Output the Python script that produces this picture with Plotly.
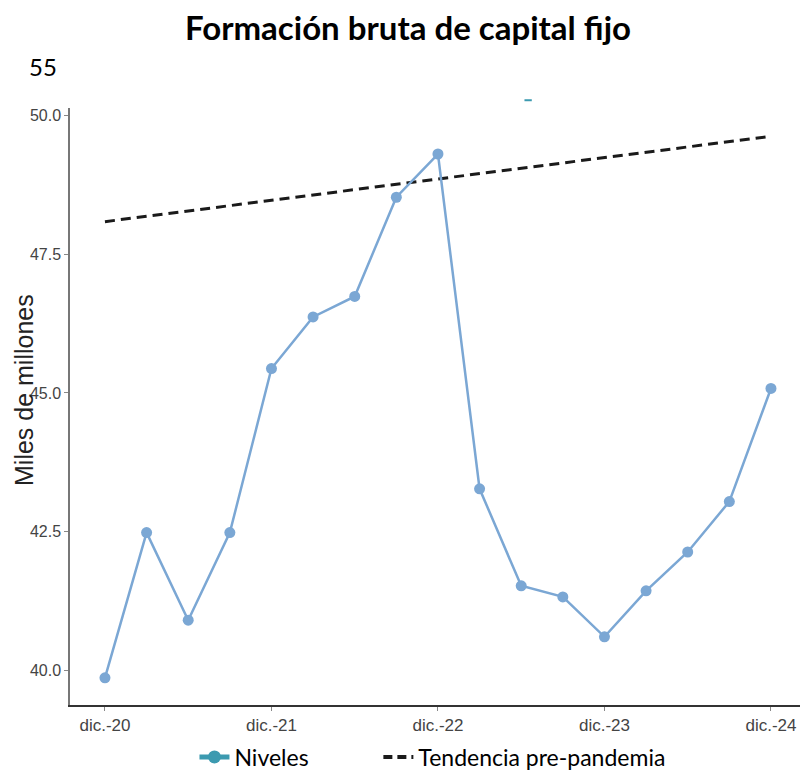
import plotly.graph_objects as go

quarters = ["dic.-20", "mar.-21", "jun.-21", "sep.-21", "dic.-21", "mar.-22", "jun.-22", "sep.-22",
            "dic.-22", "mar.-23", "jun.-23", "sep.-23", "dic.-23", "mar.-24", "jun.-24", "sep.-24", "dic.-24"]
niveles = [39.86, 42.48, 40.9, 42.48, 45.44, 46.37, 46.74, 48.53, 49.31, 43.27, 41.52, 41.32,
           40.6, 41.43, 42.13, 43.04, 45.08]
tendencia_x = [0, 16]
tendencia = [48.09, 49.63]
tick_pos = [0, 4, 8, 12, 16]
tick_labels = ["dic.-20", "dic.-21", "dic.-22", "dic.-23", "dic.-24"]
y_ticks = [40.0, 42.5, 45.0, 47.5, 50.0]

x_idx = list(range(len(quarters)))

fig = go.Figure()
fig.add_trace(go.Scatter(x=tendencia_x, y=tendencia, mode="lines",
                         line=dict(color="#1a1a1a", width=3, dash="10px,6px"),
                         showlegend=False, hoverinfo="skip"))
fig.add_trace(go.Scatter(x=x_idx, y=niveles, mode="lines+markers", text=quarters,
                         line=dict(color="#7ba7d4", width=2.5),
                         marker=dict(color="#7ba7d4", size=11),
                         showlegend=False))
# legend entries
fig.add_trace(go.Scatter(x=[None], y=[None], mode="lines+markers", name="Niveles           ",
                         line=dict(color="#3c9ab0", width=5), marker=dict(color="#3c9ab0", size=13)))
fig.add_trace(go.Scatter(x=[None], y=[None], mode="lines", name="Tendencia pre-pandemia",
                         line=dict(color="#1a1a1a", width=4, dash="9px,5px")))

axis_font = dict(family="Liberation Sans, Arial", size=16, color="#444444")

fig.update_layout(
    width=800, height=776,
    paper_bgcolor="white", plot_bgcolor="white",
    margin=dict(l=62, r=5, t=100, b=79),
    title=dict(text="<b>Formación bruta de capital fijo</b>", x=0.5, xanchor="center",
               y=0.974, yanchor="middle",
               font=dict(family="Lato, Open Sans, sans-serif", size=33, color="black")),
    xaxis=dict(range=[-0.84, 16.77], tickvals=tick_pos, ticktext=tick_labels, automargin=False,
               showgrid=False, zeroline=False, showline=True, linecolor="#333333", linewidth=2,
               ticks="outside", ticklen=4, tickcolor="#888888",
               tickfont=dict(family="Liberation Sans, Arial", size=17, color="#444444")),
    yaxis=dict(range=[39.37, 50.14], tickvals=y_ticks, tickformat=".1f", automargin=False,
               showgrid=False, zeroline=False, showline=True, linecolor="#777777", linewidth=1.5,
               ticks="outside", ticklen=4, tickcolor="#888888", tickfont=axis_font),
    legend=dict(orientation="h", x=0.4945, xanchor="center", y=-0.087, yanchor="middle",
                font=dict(family="Lato, Open Sans, sans-serif", size=23, color="black"),
                traceorder="normal"),
    annotations=[
        dict(text="55", xref="paper", yref="paper", x=-0.058, y=1.07,
             xanchor="left", yanchor="middle", showarrow=False,
             font=dict(family="Lato, Open Sans, sans-serif", size=24, color="black")),
        dict(text="Miles de millones", xref="paper", yref="paper", x=-0.0628, y=0.5276,
             xanchor="center", yanchor="middle", textangle=-90, showarrow=False, borderpad=0,
             font=dict(family="Liberation Sans, Arial", size=25, color="#222222")),
    ],
    shapes=[dict(type="line", xref="paper", yref="paper", x0=0.62, x1=0.63, y0=1.013, y1=1.013,
                 line=dict(color="#3c9ab0", width=2))],
)

fig.write_html("out.html")
